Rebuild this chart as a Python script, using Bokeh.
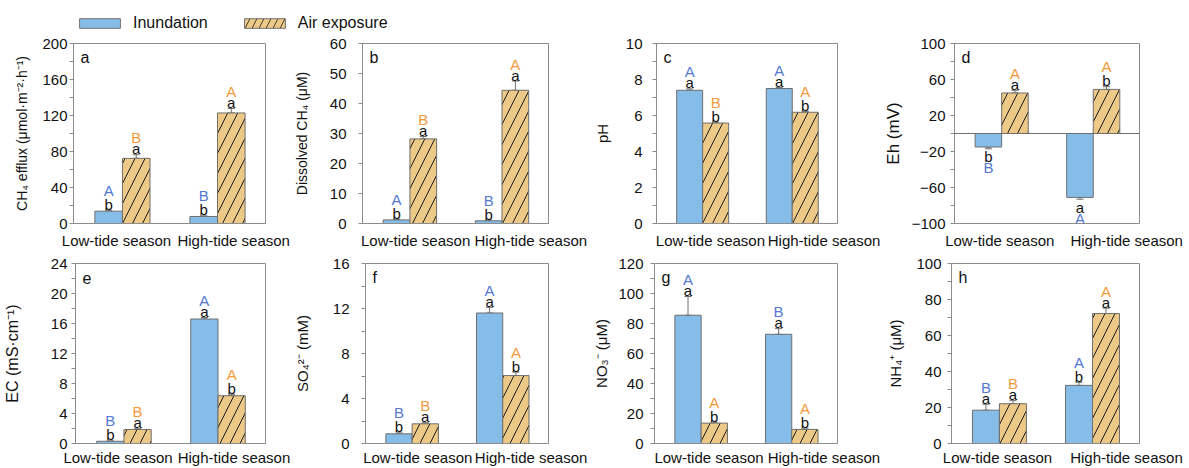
from bokeh.plotting import figure
from bokeh.layouts import column, row
from bokeh.models import (ColumnDataSource, FixedTicker, Range1d, Whisker, TeeHead,
                          Span, Label, Legend, LegendItem)
from bokeh.core.properties import value
from bokeh.embed import file_html
from bokeh.resources import INLINE

FONT = "Liberation Sans"

seasons = ["Low-tide season", "High-tide season"]
treatments = ["Inundation", "Air exposure"]
panel_tags = ["a", "b", "c", "d", "e", "f", "g", "h"]

y_labels = ["CH\u2084 efflux (\u03bcmol\u00b7m\u207b\u00b2\u00b7h\u207b\u00b9)",
            "Dissolved CH\u2084 (\u03bcM)",
            "pH",
            "Eh (mV)",
            "EC (mS\u00b7cm\u207b\u00b9)",
            "SO\u2084\u00b2\u207b (mM)",
            "NO\u2083\u207b (\u03bcM)",
            "NH\u2084\u207a (\u03bcM)"]

# values: [Low-tide, High-tide]
inund_vals = [[13.7, 7.8], [1.2, 0.9], [7.40, 7.50], [-15, -71],
              [0.3, 16.6], [0.86, 11.6], [85.5, 72.8], [18.5, 32.3]]
inund_errs = [[1.0, 0.8], [0.2, 0.2], [0.08, 0.05], [2, 2],
              [0.05, 0.2], [0.15, 0.5], [12.5, 3.8], [3.3, 1.7]]
air_vals = [[72.4, 122.8], [28.2, 44.4], [5.58, 6.18], [45, 49],
            [1.87, 6.37], [1.75, 6.04], [13.6, 9.4], [22.1, 72.2]]
air_errs = [[4.0, 5.0], [0.8, 3.1], [0.05, 0.05], [3, 3],
            [0.1, 0.2], [0.1, 0.3], [0.6, 0.8], [1.7, 3.0]]

inund_lower = [["b", "b"], ["b", "b"], ["a", "a"], ["b", "a"],
               ["b", "a"], ["b", "a"], ["a", "a"], ["a", "b"]]
inund_upper = [["A", "B"], ["A", "B"], ["A", "A"], ["B", "A"],
               ["B", "A"], ["B", "A"], ["A", "B"], ["B", "A"]]
air_lower = [["a", "a"], ["a", "a"], ["b", "b"], ["a", "b"],
             ["a", "b"], ["a", "b"], ["b", "b"], ["a", "a"]]
air_upper = [["B", "A"], ["B", "A"], ["B", "A"], ["A", "A"],
             ["B", "A"], ["B", "A"], ["A", "A"], ["B", "A"]]

y_ranges = [(0, 200), (0, 60), (0, 10), (-100, 100),
            (0, 24), (0, 16), (0, 120), (0, 100)]
y_major_ticks = [[0, 40, 80, 120, 160, 200],
                 [0, 10, 20, 30, 40, 50, 60],
                 [0, 2, 4, 6, 8, 10],
                 [-100, -60, -20, 20, 60, 100],
                 [0, 4, 8, 12, 16, 20, 24],
                 [0, 4, 8, 12, 16],
                 [0, 20, 40, 60, 80, 100, 120],
                 [0, 20, 40, 60, 80, 100]]
y_minor_ticks = [[20, 60, 100, 140, 180],
                 [],
                 [1, 3, 5, 7, 9],
                 [-80, -40, 0, 40, 80],
                 [2, 6, 10, 14, 18, 22],
                 [2, 6, 10, 14],
                 [10, 30, 50, 70, 90, 110],
                 [10, 30, 50, 70, 90]]

# styling
BLUE = "#86BDE8"
TAN = "#EDC987"
EDGE = "#6f6f6f"
FRAME = "#8c8c8c"
BLUE_TXT = "#5579D3"
ORANGE_TXT = "#F29A3C"

# layout (per column): width, min_border_left, min_border_right
col_w = [290, 300, 290, 309]
col_left = [73, 69, 59, 71]
col_right = [25, 42, 43, 50]
# where the season labels sit (data units along x), per column
season_label_pos = [(-0.063, 1.17), (0.062, 1.313), (0.087, 1.355), (-0.021, 1.365)]
tick_standoff = [2, 12, 10, 5, 4, 12, 7, 6]
label_standoff = [9, 17, 12, 6, 27, 19, 5, 9]
label_size = ["14px", "14px", "15px", "17px", "16px", "15px", "15px", "15px"]

X_START, X_END, BAR_W = -0.515, 1.505, 0.29
TXT_SHIFT = -5  # compensates the renderer's vertical text placement


def make_panel(i):
    r = i // 4
    c = i % 4
    if r == 0:
        h, top, bottom, xstand = 215, 7, 28, 8
    else:
        h, top, bottom, xstand = 217, 12, 25, 5
    p = figure(width=col_w[c], height=h, output_backend="svg", toolbar_location=None,
               x_range=Range1d(X_START, X_END), y_range=Range1d(*y_ranges[i]),
               min_border_left=col_left[c], min_border_right=col_right[c],
               min_border_top=top, min_border_bottom=bottom,
               background_fill_color="white", border_fill_color="white")
    p.outline_line_color = FRAME
    p.outline_line_width = 1
    p.grid.visible = False

    xpos = [0, 1]
    lp = season_label_pos[c]
    xa = p.xaxis[0]
    xa.ticker = FixedTicker(ticks=list(lp))
    xa.major_label_overrides = {lp[0]: seasons[0], lp[1]: seasons[1]}
    xa.major_tick_line_color = None
    xa.minor_tick_line_color = None
    xa.major_tick_out = 0
    xa.major_tick_in = 0
    xa.minor_tick_out = 0
    xa.minor_tick_in = 0
    xa.axis_line_color = FRAME
    xa.major_label_text_font = FONT
    xa.major_label_text_font_size = "15px"
    xa.major_label_text_color = "#111111"
    xa.major_label_standoff = xstand

    ya = p.yaxis[0]
    ya.ticker = FixedTicker(ticks=y_major_ticks[i], minor_ticks=y_minor_ticks[i])
    ya.axis_line_color = FRAME
    ya.major_tick_line_color = FRAME
    ya.minor_tick_line_color = FRAME
    ya.major_tick_in = 0
    ya.major_tick_out = 4
    ya.minor_tick_in = 0
    ya.minor_tick_out = 4
    ya.major_label_text_font = FONT
    ya.major_label_text_font_size = "15px"
    ya.major_label_text_color = "#111111"
    ya.major_label_standoff = tick_standoff[i]
    ya.axis_label = y_labels[i]
    ya.axis_label_text_font = FONT
    ya.axis_label_text_font_size = label_size[i]
    ya.axis_label_text_font_style = "normal"
    ya.axis_label_text_color = "#111111"
    ya.axis_label_standoff = label_standoff[i]

    if y_ranges[i][0] < 0:
        p.add_layout(Span(location=0, dimension="width", line_color="#6e6e6e", line_width=1))

    xi = [x - BAR_W / 2 for x in xpos]
    xa_ = [x + BAR_W / 2 for x in xpos]
    src_i = ColumnDataSource(dict(x=xi, top=inund_vals[i]))
    src_a = ColumnDataSource(dict(x=xa_, top=air_vals[i]))
    ri = p.vbar(x="x", top="top", bottom=0, width=BAR_W, source=src_i,
                fill_color=BLUE, line_color=EDGE, line_width=1)
    ra = p.vbar(x="x", top="top", bottom=0, width=BAR_W, source=src_a,
                fill_color=TAN, line_color=EDGE, line_width=1,
                hatch_pattern="/", hatch_color="#1a1a1a", hatch_weight=1, hatch_scale=20)

    xs, lo, hi = [], [], []
    lx, ly, lt, loff = [], [], [], []
    ux, uy, ut, uoff, ucol = [], [], [], [], []
    groups = [(xi, inund_vals[i], inund_errs[i], inund_lower[i], inund_upper[i], BLUE_TXT),
              (xa_, air_vals[i], air_errs[i], air_lower[i], air_upper[i], ORANGE_TXT)]
    for gx, gv, ge, gl, gu, gcol in groups:
        for k in range(2):
            v, e = gv[k], ge[k]
            end = v + e if v >= 0 else v - e
            xs.append(gx[k]); lo.append(min(v, end)); hi.append(max(v, end))
            lx.append(gx[k]); ly.append(end); lt.append(gl[k])
            ux.append(gx[k]); uy.append(end); ut.append(gu[k]); ucol.append(gcol)
            if v >= 0:
                lo_off = -1
                up_off = lo_off - (11 if gl[k] == "a" else 14)
            else:
                lo_off = 13
                up_off = 24
            loff.append(lo_off + TXT_SHIFT); uoff.append(up_off + TXT_SHIFT)
    wsrc = ColumnDataSource(dict(base=xs, lower=lo, upper=hi))
    p.add_layout(Whisker(source=wsrc, base="base", lower="lower", upper="upper",
                         line_color="#6e6e6e", line_width=1,
                         lower_head=TeeHead(size=7, line_color="#6e6e6e", line_width=1),
                         upper_head=TeeHead(size=7, line_color="#6e6e6e", line_width=1)))
    p.text(x="x", y="y", text="t", y_offset="off",
           source=ColumnDataSource(dict(x=lx, y=ly, t=lt, off=loff)),
           text_font=value(FONT), text_font_size="15px", text_color="#111111",
           text_align="center", text_baseline="alphabetic")
    p.text(x="x", y="y", text="t", y_offset="off", text_color="c",
           source=ColumnDataSource(dict(x=ux, y=uy, t=ut, off=uoff, c=ucol)),
           text_font=value(FONT), text_font_size="15px",
           text_align="center", text_baseline="alphabetic")

    p.add_layout(Label(x=X_START, y=y_ranges[i][1], x_offset=7, y_offset=-14,
                       text=panel_tags[i], text_font=FONT, text_font_size="16px",
                       text_color="#111111", text_baseline="alphabetic"))
    return p, ri, ra


panels = [make_panel(i) for i in range(8)]

# legend strip
lg = figure(width=1189, height=36, output_backend="svg", toolbar_location=None,
            x_range=Range1d(0, 1), y_range=Range1d(0, 1),
            x_axis_type=None, y_axis_type=None, min_border=0)
lg.outline_line_color = None
lg.grid.visible = False
r1 = lg.vbar(x=[5], top=[1], width=0.1, fill_color=BLUE, line_color=EDGE, line_width=1)
r2 = lg.vbar(x=[5], top=[1], width=0.1, fill_color=TAN, line_color=EDGE, line_width=1,
             hatch_pattern="/", hatch_color="#1a1a1a", hatch_weight=0.8, hatch_scale=14)
legend = Legend(items=[LegendItem(label=treatments[0], renderers=[r1]),
                       LegendItem(label=treatments[1], renderers=[r2])],
                orientation="horizontal", location=(74, 4),
                glyph_width=51, glyph_height=12, label_standoff=8, spacing=31,
                padding=0, margin=0, border_line_alpha=0, background_fill_alpha=0,
                label_text_font=FONT, label_text_font_size="16px", label_text_color="#111111")
lg.add_layout(legend, "center")

layout = column(lg,
                row(*[panels[i][0] for i in range(4)]),
                row(*[panels[i][0] for i in range(4, 8)]))

open("out.html", "w").write(file_html(layout, INLINE))
